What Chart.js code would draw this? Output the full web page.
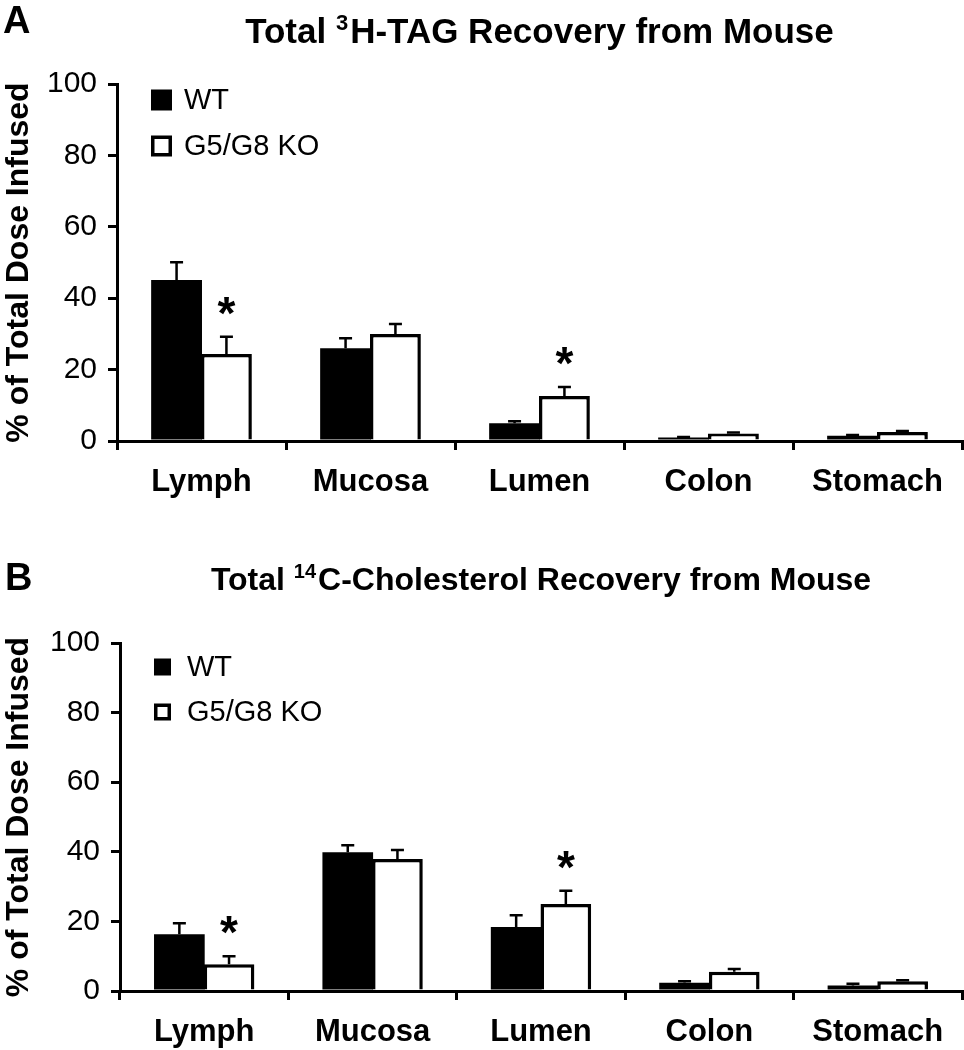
<!DOCTYPE html>
<html>
<head>
<meta charset="utf-8">
<script src="https://cdn.jsdelivr.net/npm/chart.js@4.4.1/dist/chart.umd.min.js"></script>
<style>
  body { margin: 0; background: #fff; }
  canvas { position: absolute; left: 0; }
  #chartA { top: 0; }
  #chartB { top: 530px; }
</style>
</head>
<body>
<canvas id="chartA" width="964" height="530"></canvas>
<canvas id="chartB" width="964" height="520"></canvas>
<script>
// categories and series
var categories = ['Lymph', 'Mucosa', 'Lumen', 'Colon', 'Stomach'];
var seriesNames = ['WT', 'G5/G8 KO'];
var yTicks = [0, 20, 40, 60, 80, 100];

// panel A: 3H-TAG
var tagWT = [45.1, 26.0, 5.0, 1.0, 1.5];
var tagWTErr = [5.0, 2.8, 0.5, 0.1, 0.2];
var tagKO = [24.4, 30.0, 12.6, 2.1, 2.5];
var tagKOErr = [4.8, 2.8, 2.5, 0.3, 0.3];
var tagSig = [true, false, true, false, false];

// panel B: 14C-cholesterol
var cholWT = [16.3, 39.9, 18.4, 2.4, 1.6];
var cholWTErr = [3.2, 2.0, 3.4, 0.4, 0.5];
var cholKO = [7.7, 37.9, 25.0, 5.5, 2.8];
var cholKOErr = [2.3, 2.6, 3.8, 0.8, 0.3];
var cholSig = [true, false, true, false, false];

var FONT = "'Liberation Sans', Arial, Helvetica, sans-serif";

// error bars, asterisks, legend, title and panel letter
var panelDecor = {
    id: 'panelDecor',
    afterDatasetsDraw: function(chart, args, o) {
        var ctx = chart.ctx;
        var y = chart.scales.y;
        var area = chart.chartArea;
        ctx.save();

        // error bars (upper only)
        ctx.strokeStyle = '#000';
        ctx.lineWidth = 2.5;
        chart.data.datasets.forEach(function(ds, i) {
            var meta = chart.getDatasetMeta(i);
            meta.data.forEach(function(bar, j) {
                var yTop = y.getPixelForValue(ds.data[j] + ds.errors[j]);
                var yBar = y.getPixelForValue(ds.data[j]);
                ctx.beginPath();
                ctx.moveTo(bar.x, yBar);
                ctx.lineTo(bar.x, yTop);
                ctx.moveTo(bar.x - 6.5, yTop);
                ctx.lineTo(bar.x + 6.5, yTop);
                ctx.stroke();
                if (ds.sig && ds.sig[j]) {
                    ctx.fillStyle = '#000';
                    ctx.font = 'bold 46px ' + FONT;
                    ctx.textAlign = 'center';
                    ctx.textBaseline = 'alphabetic';
                    ctx.fillText('*', bar.x, yTop - 8);
                }
            });
        });

        // legend inside the plot
        chart.data.datasets.forEach(function(ds, i) {
            var cy = area.top + o.legendTop + i * o.legendGap;
            var s = o.legendBox;
            var bx = area.left + 34;
            if (ds.backgroundColor === '#000') {
                ctx.fillStyle = '#000';
                ctx.fillRect(bx, cy - s / 2, s, s);
            } else {
                ctx.fillStyle = '#fff';
                ctx.fillRect(bx, cy - s / 2, s, s);
                ctx.lineWidth = 3.5;
                ctx.strokeStyle = '#000';
                ctx.strokeRect(bx + 1.75, cy - s / 2 + 1.75, s - 3.5, s - 3.5);
            }
            ctx.fillStyle = '#000';
            ctx.font = '29px ' + FONT;
            ctx.textAlign = 'left';
            ctx.textBaseline = 'middle';
            ctx.fillText(ds.label, area.left + 67, cy + 1);
        });

        // panel letter
        ctx.fillStyle = '#000';
        ctx.font = 'bold 38px ' + FONT;
        ctx.textAlign = 'left';
        ctx.textBaseline = 'alphabetic';
        ctx.fillText(o.letter, o.letterX, o.letterY);

        // title with superscript
        var big = 'bold ' + o.titleSize + 'px ' + FONT;
        var small = 'bold ' + Math.round(o.titleSize * 0.62) + 'px ' + FONT;
        ctx.font = big;
        var w1 = ctx.measureText(o.titlePre).width;
        var w3 = ctx.measureText(o.titlePost).width;
        ctx.font = small;
        var w2 = ctx.measureText(o.titleSup).width + 2;
        var x = (area.left + area.right) / 2 - (w1 + w2 + w3) / 2;
        ctx.font = big;
        ctx.fillText(o.titlePre, x, o.titleY);
        ctx.font = small;
        ctx.fillText(o.titleSup, x + w1, o.titleY - o.titleSize * 0.36);
        ctx.font = big;
        ctx.fillText(o.titlePost, x + w1 + w2, o.titleY);
        ctx.restore();
    }
};

function makePanel(id, wt, wtErr, ko, koErr, sig, p) {
    var ctx = document.getElementById(id).getContext('2d');
    return new Chart(ctx, {
        type: 'bar',
        data: {
            labels: categories,
            datasets: [
                {
                    label: seriesNames[0],
                    data: wt,
                    errors: wtErr,
                    backgroundColor: '#000',
                    borderWidth: 0
                },
                {
                    label: seriesNames[1],
                    data: ko,
                    errors: koErr,
                    sig: sig,
                    backgroundColor: '#fff',
                    borderColor: '#000',
                    borderWidth: 3.5
                }
            ]
        },
        options: {
            responsive: false,
            animation: false,
            devicePixelRatio: 1,
            layout: { padding: { top: p.top, right: 2, left: 0, bottom: 0 } },
            categoryPercentage: 0.59,
            barPercentage: 1.02,
            plugins: {
                legend: { display: false },
                tooltip: { enabled: false },
                panelDecor: p.decor
            },
            scales: {
                x: {
                    offset: true,
                    grid: { offset: true, drawOnChartArea: false, tickLength: 9, lineWidth: 3, color: '#000' },
                    border: { color: '#000', width: 3 },
                    ticks: { color: '#000', padding: 14, font: { family: FONT, size: 31, weight: 'bold' } },
                    afterFit: function(s) { s.height = p.xHeight; }
                },
                y: {
                    min: 0,
                    max: 100,
                    afterBuildTicks: function(s) {
                        s.ticks = yTicks.map(function(v) { return { value: v }; });
                    },
                    grid: { drawOnChartArea: false, tickLength: 9, lineWidth: 3, color: '#000' },
                    border: { color: '#000', width: 3 },
                    ticks: { color: '#000', padding: 11, font: { family: FONT, size: 30 } },
                    title: {
                        display: true,
                        text: '% of Total Dose Infused',
                        color: '#000',
                        padding: { top: 0, bottom: 0 },
                        font: { family: FONT, size: 32, weight: 'bold' }
                    },
                    afterFit: function(s) { s.width = p.yWidth; }
                }
            }
        },
        plugins: [panelDecor]
    });
}

makePanel('chartA', tagWT, tagWTErr, tagKO, tagKOErr, tagSig, {
    top: 84, xHeight: 89, yWidth: 117,
    decor: {
        letter: 'A', letterX: 3, letterY: 33,
        titlePre: 'Total ', titleSup: '3', titlePost: 'H-TAG Recovery from Mouse',
        titleY: 43, titleSize: 35,
        legendTop: 16, legendGap: 46, legendBox: 21
    }
});

makePanel('chartB', cholWT, cholWTErr, cholKO, cholKOErr, cholSig, {
    top: 113, xHeight: 59, yWidth: 120,
    decor: {
        letter: 'B', letterX: 5, letterY: 60,
        titlePre: 'Total ', titleSup: '14', titlePost: 'C-Cholesterol Recovery from Mouse',
        titleY: 60, titleSize: 32,
        legendTop: 24, legendGap: 45, legendBox: 17
    }
});
</script>
</body>
</html>
